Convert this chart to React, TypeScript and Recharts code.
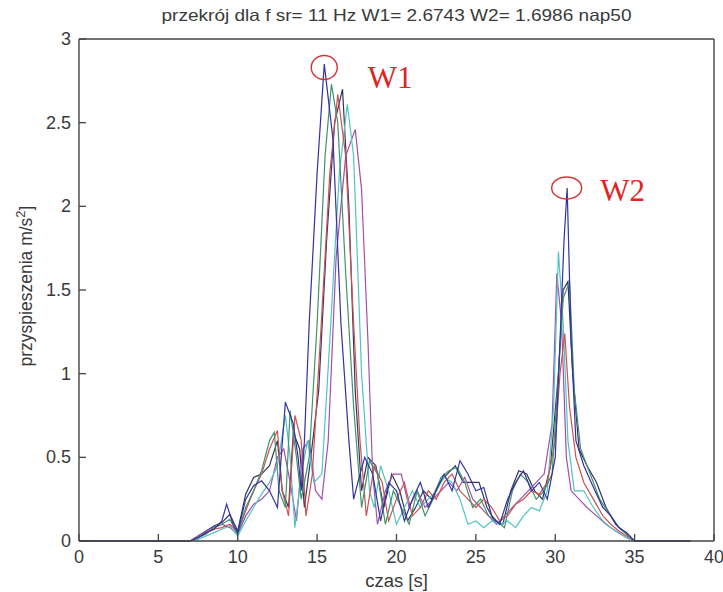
import React from "react";
import { LineChart, Line, XAxis, YAxis, ReferenceDot, Label } from "recharts";

// czas [s] / przyspieszenia m/s^2, one list per trace
const xTicks = [0, 5, 10, 15, 20, 25, 30, 35, 40];
const yTicks = [0, 0.5, 1, 1.5, 2, 2.5, 3];

const blueTrace: [number, number][] = [
  [0, 0], [7, 0], [7.5, 0.02], [8, 0.05], [8.5, 0.07], [9, 0.12], [9.3, 0.22], [9.7, 0.1], [10, 0.05],
  [10.5, 0.25], [11, 0.33], [11.5, 0.36], [12, 0.3], [12.5, 0.2], [13, 0.83], [13.5, 0.7], [13.8, 0.5],
  [14, 0.3], [14.2, 0.6], [14.5, 1.3], [15, 2.2], [15.45, 2.85], [16, 2.4], [16.5, 1.3], [17, 0.6],
  [17.3, 0.25], [17.7, 0.4], [18, 0.5], [18.5, 0.4], [19, 0.12], [19.5, 0.35], [20, 0.3], [20.5, 0.12],
  [21, 0.25], [21.5, 0.35], [22, 0.2], [22.5, 0.3], [23, 0.4], [23.5, 0.3], [24, 0.48], [24.5, 0.4],
  [25, 0.3], [25.5, 0.32], [26, 0.15], [26.5, 0.1], [27, 0.25], [27.5, 0.35], [28, 0.42], [28.5, 0.3],
  [29, 0.35], [29.5, 0.25], [30, 0.5], [30.3, 1.2], [30.55, 1.79], [30.75, 2.11], [31, 1.2], [31.3, 0.6],
  [31.8, 0.45], [32.5, 0.3], [33, 0.2], [33.5, 0.15], [34, 0.08], [34.5, 0.05], [35, 0], [38.5, 0],
];

const greenTrace: [number, number][] = [
  [0, 0], [7, 0], [7.5, 0.02], [8, 0.04], [8.5, 0.08], [9, 0.1], [9.5, 0.13], [10, 0.04], [10.5, 0.2],
  [11, 0.3], [11.5, 0.42], [12, 0.6], [12.3, 0.65], [12.6, 0.3], [13, 0.2], [13.3, 0.78], [13.7, 0.5],
  [14, 0.25], [14.5, 0.5], [15, 1.3], [15.5, 2.3], [15.9, 2.73], [16.3, 2.5], [16.8, 1.6], [17.3, 0.8],
  [17.8, 0.2], [18.3, 0.48], [18.8, 0.4], [19.3, 0.1], [19.8, 0.3], [20.3, 0.2], [20.8, 0.1], [21.3, 0.3],
  [21.8, 0.15], [22.3, 0.25], [22.8, 0.38], [23.3, 0.42], [23.8, 0.44], [24.3, 0.35], [24.8, 0.2],
  [25.3, 0.25], [25.8, 0.15], [26.3, 0.12], [26.8, 0.08], [27.3, 0.3], [27.8, 0.4], [28.3, 0.35],
  [28.8, 0.25], [29.3, 0.3], [29.8, 0.4], [30.2, 1.0], [30.5, 1.45], [30.9, 1.55], [31.2, 0.9],
  [31.6, 0.55], [32.2, 0.4], [32.8, 0.25], [33.5, 0.15], [34, 0.08], [34.5, 0.04], [35, 0], [38.5, 0],
];

const redTrace: [number, number][] = [
  [0, 0], [7, 0], [7.5, 0.02], [8, 0.05], [8.5, 0.07], [9, 0.08], [9.5, 0.1], [10, 0.05], [10.5, 0.18],
  [11, 0.3], [11.5, 0.4], [12, 0.55], [12.5, 0.66], [12.8, 0.3], [13.2, 0.15], [13.6, 0.75], [14, 0.6],
  [14.3, 0.15], [14.7, 0.4], [15.2, 1.2], [15.8, 2.2], [16.3, 2.67], [16.8, 2.3], [17.3, 1.3], [17.7, 0.6],
  [18.1, 0.15], [18.6, 0.45], [19.1, 0.35], [19.5, 0.12], [20, 0.25], [20.5, 0.35], [21, 0.15], [21.5, 0.2],
  [22, 0.3], [22.5, 0.25], [23, 0.35], [23.5, 0.4], [24, 0.3], [24.5, 0.25], [25, 0.2], [25.5, 0.25],
  [26, 0.2], [26.5, 0.12], [27, 0.15], [27.5, 0.22], [28, 0.25], [28.5, 0.3], [29, 0.28], [29.5, 0.35],
  [30, 0.6], [30.3, 1.0], [30.6, 1.24], [30.9, 0.8], [31.3, 0.5], [31.8, 0.35], [32.4, 0.25], [33, 0.15],
  [33.5, 0.1], [34, 0.06], [34.5, 0.03], [35, 0], [38.5, 0],
];

const cyanTrace: [number, number][] = [
  [0, 0], [7, 0], [7.5, 0.01], [8, 0.03], [8.5, 0.05], [9, 0.07], [9.5, 0.09], [10, 0.03], [10.5, 0.12],
  [11, 0.2], [11.5, 0.28], [12, 0.35], [12.5, 0.45], [13, 0.75], [13.3, 0.5], [13.6, 0.08], [14, 0.4],
  [14.4, 0.6], [14.8, 0.35], [15.3, 0.4], [15.8, 1.2], [16.4, 2.2], [16.9, 2.61], [17.3, 2.3], [17.8, 1.0],
  [18.3, 0.3], [18.6, 0.2], [19, 0.45], [19.5, 0.3], [20, 0.1], [20.5, 0.2], [21, 0.3], [21.5, 0.2],
  [22, 0.25], [22.5, 0.3], [23, 0.38], [23.5, 0.35], [24, 0.25], [24.5, 0.1], [25, 0.12], [25.5, 0.08],
  [26, 0.12], [26.5, 0.1], [27, 0.12], [27.5, 0.08], [28, 0.15], [28.5, 0.2], [29, 0.18], [29.5, 0.3],
  [29.9, 0.8], [30.2, 1.73], [30.5, 1.3], [30.8, 0.6], [31.2, 0.3], [31.8, 0.3], [32.4, 0.2], [33, 0.12],
  [33.5, 0.08], [34, 0.05], [34.5, 0.02], [35, 0], [38.5, 0],
];

const magentaTrace: [number, number][] = [
  [0, 0], [7, 0], [7.5, 0.03], [8, 0.06], [8.5, 0.08], [9, 0.1], [9.5, 0.08], [10, 0.04], [10.5, 0.15],
  [11, 0.22], [11.5, 0.25], [12, 0.3], [12.5, 0.5], [12.9, 0.55], [13.3, 0.35], [13.7, 0.12], [14.1, 0.55],
  [14.5, 0.6], [14.9, 0.3], [15.3, 0.25], [15.7, 0.6], [16.2, 1.7], [16.8, 2.3], [17.4, 2.46], [17.8, 2.1],
  [18.2, 1.2], [18.5, 0.4], [18.8, 0.1], [19.3, 0.3], [19.8, 0.4], [20.3, 0.4], [20.8, 0.2], [21.3, 0.3],
  [21.8, 0.2], [22.3, 0.25], [22.8, 0.3], [23.3, 0.35], [23.8, 0.3], [24.3, 0.38], [24.8, 0.25],
  [25.3, 0.2], [25.8, 0.15], [26.3, 0.1], [26.8, 0.15], [27.3, 0.2], [27.8, 0.25], [28.3, 0.3],
  [28.8, 0.35], [29.3, 0.4], [29.8, 0.7], [30.1, 1.6], [30.4, 1.3], [30.7, 0.5], [31, 0.3], [31.5, 0.25],
  [32, 0.2], [32.6, 0.15], [33.2, 0.1], [33.8, 0.06], [34.5, 0.02], [35, 0], [38.5, 0],
];

const darkTrace: [number, number][] = [
  [0, 0], [7, 0], [7.5, 0.03], [8, 0.06], [8.5, 0.09], [9, 0.11], [9.5, 0.16], [10, 0.06], [10.5, 0.28],
  [11, 0.38], [11.5, 0.4], [12, 0.45], [12.5, 0.6], [12.8, 0.3], [13.2, 0.2], [13.5, 0.65], [13.9, 0.55],
  [14.2, 0.2], [14.6, 0.5], [15.1, 0.9], [15.6, 1.8], [16.1, 2.5], [16.6, 2.7], [17, 2.0], [17.4, 0.9],
  [17.8, 0.3], [18.2, 0.5], [18.7, 0.45], [19.2, 0.2], [19.7, 0.4], [20.2, 0.3], [20.7, 0.12], [21.2, 0.2],
  [21.7, 0.3], [22.2, 0.25], [22.7, 0.35], [23.2, 0.4], [23.7, 0.45], [24.2, 0.35], [24.7, 0.35],
  [25.2, 0.35], [25.7, 0.2], [26.2, 0.12], [26.7, 0.1], [27.2, 0.3], [27.7, 0.42], [28.2, 0.4], [28.7, 0.3],
  [29.2, 0.25], [29.7, 0.45], [30.2, 1.0], [30.5, 1.5], [30.8, 1.55], [31.1, 1.0], [31.5, 0.55], [32, 0.45],
  [32.6, 0.35], [33.2, 0.2], [33.8, 0.1], [34.4, 0.05], [35, 0], [38.5, 0],
];

const traces = [
  { name: "s6", pts: darkTrace, color: "#34345e" },
  { name: "s5", pts: magentaTrace, color: "#a050b0" },
  { name: "s4", pts: cyanTrace, color: "#50c4c4" },
  { name: "s3", pts: redTrace, color: "#cc5252" },
  { name: "s2", pts: greenTrace, color: "#42936a" },
  { name: "s1", pts: blueTrace, color: "#3232a2" },
];

const toRows = (pts: [number, number][]) => pts.map(([t, v]) => ({ t, v }));

const axisColor = "#444";
const textColor = "#3a3a3a";
const font = "'Liberation Sans', Arial, sans-serif";
const TICK = 7;

const BottomTick = (props: any) => {
  const { x, y, payload } = props;
  return (
    <g>
      <line x1={x} y1={y - TICK} x2={x} y2={y - 2 * TICK} stroke={axisColor} strokeWidth={1.3} />
      <text x={x} y={y + 15} textAnchor="middle" fontSize={18} fontFamily={font} fill={textColor}>
        {payload.value}
      </text>
    </g>
  );
};

const LeftTick = (props: any) => {
  const { x, y, payload } = props;
  return (
    <g>
      <line x1={x + TICK} y1={y} x2={x + 2 * TICK} y2={y} stroke={axisColor} strokeWidth={1.3} />
      <text x={x - 1} y={y + 6} textAnchor="end" fontSize={18} fontFamily={font} fill={textColor}>
        {payload.value}
      </text>
    </g>
  );
};

const TopTick = (props: any) => {
  const { x, y } = props;
  return <line x1={x} y1={y + TICK} x2={x} y2={y + 2 * TICK} stroke={axisColor} strokeWidth={1.3} />;
};

const RightTick = (props: any) => {
  const { x, y } = props;
  return <line x1={x - TICK} y1={y} x2={x - 2 * TICK} y2={y} stroke={axisColor} strokeWidth={1.3} />;
};

const Title = (props: any) => {
  const { viewBox } = props;
  return (
    <text
      x={viewBox.x + viewBox.width / 2}
      y={viewBox.y - 17}
      textAnchor="middle"
      fontSize={16.5}
      fontFamily={font}
      fill={textColor}
      textLength={470}
      lengthAdjust="spacingAndGlyphs"
    >
      przekrój dla f sr= 11 Hz W1= 2.6743 W2= 1.6986 nap50
    </text>
  );
};

const YTitle = (props: any) => {
  const { viewBox } = props;
  const cx = 32;
  const cy = viewBox.y + viewBox.height / 2 - 4;
  return (
    <text
      x={cx}
      y={cy}
      transform={`rotate(-90, ${cx}, ${cy})`}
      textAnchor="middle"
      fontSize={17.5}
      fontFamily={font}
      fill={textColor}
    >
      przyspieszenia m/s
      <tspan dy={-7} fontSize={13}>2</tspan>
      <tspan dy={7}>]</tspan>
    </text>
  );
};

const circle = (rx: number, ry: number) => (p: any) =>
  <ellipse cx={p.cx} cy={p.cy} rx={rx} ry={ry} fill="none" stroke="#d83030" strokeWidth={1.4} />;

const word = (s: string) => (p: any) =>
  (
    <text
      x={p.cx}
      y={p.cy + 11}
      textAnchor="middle"
      fontSize={31}
      fontFamily="'Liberation Serif', 'Times New Roman', serif"
      fill="#e02424"
    >
      {s}
    </text>
  );

export default function App() {
  return (
    <div style={{ position: "absolute", left: 0, top: 0, background: "#fff" }}>
      <LineChart width={723} height={592} margin={{ top: 38, right: 8, left: 0, bottom: 0 }}>
        <XAxis
          dataKey="t"
          type="number"
          domain={[0, 40]}
          ticks={xTicks}
          allowDataOverflow
          height={51}
          tickSize={TICK}
          tickMargin={0}
          tickLine={false}
          stroke={axisColor}
          strokeWidth={1.4}
          tick={<BottomTick />}
        >
          <Label
            value="czas [s]"
            position="insideBottom"
            offset={5}
            style={{ fontSize: 18.5, fontFamily: font, fill: textColor }}
          />
        </XAxis>
        <XAxis
          xAxisId="top"
          orientation="top"
          type="number"
          domain={[0, 40]}
          ticks={xTicks}
          height={1}
          tickSize={TICK}
          tickMargin={0}
          tickLine={false}
          stroke={axisColor}
          strokeWidth={1.4}
          tick={<TopTick />}
        >
          <Label content={<Title />} />
        </XAxis>
        <YAxis
          type="number"
          domain={[0, 3]}
          ticks={yTicks}
          width={79}
          tickSize={TICK}
          tickMargin={0}
          tickLine={false}
          stroke={axisColor}
          strokeWidth={1.4}
          tick={<LeftTick />}
        >
          <Label content={<YTitle />} />
        </YAxis>
        <YAxis
          yAxisId="right"
          orientation="right"
          type="number"
          domain={[0, 3]}
          ticks={yTicks}
          width={1}
          tickSize={TICK}
          tickMargin={0}
          tickLine={false}
          stroke={axisColor}
          strokeWidth={1.4}
          tick={<RightTick />}
        />
        {traces.map((s) => (
          <Line
            key={s.name}
            data={toRows(s.pts)}
            dataKey="v"
            type="linear"
            stroke={s.color}
            strokeWidth={1.2}
            dot={false}
            isAnimationActive={false}
          />
        ))}
        <ReferenceDot x={15.45} y={2.83} r={13} shape={circle(13, 12)} />
        <ReferenceDot x={30.72} y={2.11} r={13} shape={circle(15, 11)} />
        <ReferenceDot x={19.6} y={2.77} r={1} shape={word("W1")} />
        <ReferenceDot x={34.25} y={2.1} r={1} shape={word("W2")} />
      </LineChart>
    </div>
  );
}
